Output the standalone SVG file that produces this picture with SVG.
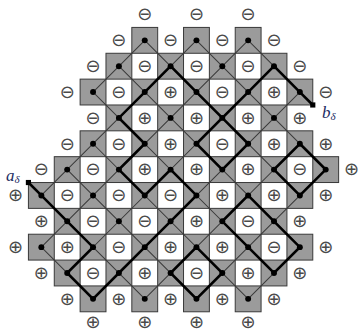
<svg xmlns="http://www.w3.org/2000/svg" width="360" height="332" viewBox="0 0 360 332">
<style>
.cell{fill:#9b9b9b;stroke:#3a3a3a;stroke-width:0.039}
.thin{fill:none;stroke:#3a3a3a;stroke-width:0.039}
.thick{fill:none;stroke:#000;stroke-width:0.1;stroke-linejoin:miter}
.dot{fill:#000}
.s{font-family:"DejaVu Sans",sans-serif;font-size:18px;fill:#4a4a4a;text-anchor:middle}
.lab{font-family:"Liberation Serif",serif;font-style:italic;fill:#1d2c62}
</style>
<rect width="360" height="332" fill="#fff"/>
<g id="lattice" transform="translate(15.5 14.5) scale(25.85)">
<g id="cells" class="cell">
<rect x="4.5" y="0.5" width="1" height="1"/><rect x="6.5" y="0.5" width="1" height="1"/><rect x="8.5" y="0.5" width="1" height="1"/>
<rect x="3.5" y="1.5" width="1" height="1"/><rect x="5.5" y="1.5" width="1" height="1"/><rect x="7.5" y="1.5" width="1" height="1"/><rect x="9.5" y="1.5" width="1" height="1"/>
<rect x="2.5" y="2.5" width="1" height="1"/><rect x="4.5" y="2.5" width="1" height="1"/><rect x="6.5" y="2.5" width="1" height="1"/><rect x="8.5" y="2.5" width="1" height="1"/><rect x="10.5" y="2.5" width="1" height="1"/>
<rect x="3.5" y="3.5" width="1" height="1"/><rect x="5.5" y="3.5" width="1" height="1"/><rect x="7.5" y="3.5" width="1" height="1"/><rect x="9.5" y="3.5" width="1" height="1"/>
<rect x="2.5" y="4.5" width="1" height="1"/><rect x="4.5" y="4.5" width="1" height="1"/><rect x="6.5" y="4.5" width="1" height="1"/><rect x="8.5" y="4.5" width="1" height="1"/><rect x="10.5" y="4.5" width="1" height="1"/>
<rect x="1.5" y="5.5" width="1" height="1"/><rect x="3.5" y="5.5" width="1" height="1"/><rect x="5.5" y="5.5" width="1" height="1"/><rect x="7.5" y="5.5" width="1" height="1"/><rect x="9.5" y="5.5" width="1" height="1"/><rect x="11.5" y="5.5" width="1" height="1"/>
<rect x="0.5" y="6.5" width="1" height="1"/><rect x="2.5" y="6.5" width="1" height="1"/><rect x="4.5" y="6.5" width="1" height="1"/><rect x="6.5" y="6.5" width="1" height="1"/><rect x="8.5" y="6.5" width="1" height="1"/><rect x="10.5" y="6.5" width="1" height="1"/>
<rect x="1.5" y="7.5" width="1" height="1"/><rect x="3.5" y="7.5" width="1" height="1"/><rect x="5.5" y="7.5" width="1" height="1"/><rect x="7.5" y="7.5" width="1" height="1"/><rect x="9.5" y="7.5" width="1" height="1"/>
<rect x="0.5" y="8.5" width="1" height="1"/><rect x="2.5" y="8.5" width="1" height="1"/><rect x="4.5" y="8.5" width="1" height="1"/><rect x="6.5" y="8.5" width="1" height="1"/><rect x="8.5" y="8.5" width="1" height="1"/><rect x="10.5" y="8.5" width="1" height="1"/>
<rect x="1.5" y="9.5" width="1" height="1"/><rect x="3.5" y="9.5" width="1" height="1"/><rect x="5.5" y="9.5" width="1" height="1"/><rect x="7.5" y="9.5" width="1" height="1"/><rect x="9.5" y="9.5" width="1" height="1"/>
<rect x="2.5" y="10.5" width="1" height="1"/><rect x="4.5" y="10.5" width="1" height="1"/><rect x="6.5" y="10.5" width="1" height="1"/><rect x="8.5" y="10.5" width="1" height="1"/>
</g>
<g id="connectors">
<path class="thin" d="M5 1L11 7M7 1L12 6M9 1L11 3M4 2L11 9M3 3L10 10M3 5L9 11M2 6L7 11M1 7L5 11M1 9L3 11M5 1L3 3M7 1L1 7M9 1L1 9M10 2L2 10M11 3L3 11M11 5L5 11M12 6L7 11M11 9L9 11"/>
<path class="thick" d="M0.5 6.5L1 7L2 8L3 9L2 10L3 11L4 10L5 9L6 8L7 7L6 6L5 7L4 6L5 5L4 4L5 3L6 2L7 3L8 4L9 3L10 2L11 3L11.5 3.5M8 4L9 5L8 6L7 5ZM11 5L12 6L11 7L10 6ZM9 7L10 8L11 9L10 10L9 9L8 8ZM7 9L8 10L7 11L6 10Z"/>
</g>
<g id="dots" class="dot">
<circle cx="5" cy="1" r="0.115"/><circle cx="7" cy="1" r="0.115"/><circle cx="9" cy="1" r="0.115"/>
<circle cx="4" cy="2" r="0.115"/><circle cx="6" cy="2" r="0.115"/><circle cx="8" cy="2" r="0.115"/><circle cx="10" cy="2" r="0.115"/>
<circle cx="3" cy="3" r="0.115"/><circle cx="5" cy="3" r="0.115"/><circle cx="7" cy="3" r="0.115"/><circle cx="9" cy="3" r="0.115"/><circle cx="11" cy="3" r="0.115"/>
<circle cx="4" cy="4" r="0.115"/><circle cx="6" cy="4" r="0.115"/><circle cx="8" cy="4" r="0.115"/><circle cx="10" cy="4" r="0.115"/>
<circle cx="3" cy="5" r="0.115"/><circle cx="5" cy="5" r="0.115"/><circle cx="7" cy="5" r="0.115"/><circle cx="9" cy="5" r="0.115"/><circle cx="11" cy="5" r="0.115"/>
<circle cx="2" cy="6" r="0.115"/><circle cx="4" cy="6" r="0.115"/><circle cx="6" cy="6" r="0.115"/><circle cx="8" cy="6" r="0.115"/><circle cx="10" cy="6" r="0.115"/><circle cx="12" cy="6" r="0.115"/>
<circle cx="1" cy="7" r="0.115"/><circle cx="3" cy="7" r="0.115"/><circle cx="5" cy="7" r="0.115"/><circle cx="7" cy="7" r="0.115"/><circle cx="9" cy="7" r="0.115"/><circle cx="11" cy="7" r="0.115"/>
<circle cx="2" cy="8" r="0.115"/><circle cx="4" cy="8" r="0.115"/><circle cx="6" cy="8" r="0.115"/><circle cx="8" cy="8" r="0.115"/><circle cx="10" cy="8" r="0.115"/>
<circle cx="1" cy="9" r="0.115"/><circle cx="3" cy="9" r="0.115"/><circle cx="5" cy="9" r="0.115"/><circle cx="7" cy="9" r="0.115"/><circle cx="9" cy="9" r="0.115"/><circle cx="11" cy="9" r="0.115"/>
<circle cx="2" cy="10" r="0.115"/><circle cx="4" cy="10" r="0.115"/><circle cx="6" cy="10" r="0.115"/><circle cx="8" cy="10" r="0.115"/><circle cx="10" cy="10" r="0.115"/>
<circle cx="3" cy="11" r="0.115"/><circle cx="5" cy="11" r="0.115"/><circle cx="7" cy="11" r="0.115"/><circle cx="9" cy="11" r="0.115"/>
</g>
<g id="endpoints" fill="#000">
<rect x="0.4" y="6.4" width="0.2" height="0.2"/>
<rect x="11.4" y="3.4" width="0.2" height="0.2"/>
</g>
</g>
<g id="signs" class="s" transform="translate(0 5.8)">
<text x="144.75" y="14.5">⊖</text><text x="196.45" y="14.5">⊖</text><text x="248.15" y="14.5">⊖</text>
<text x="118.9" y="40.35">⊖</text><text x="170.6" y="40.35">⊖</text><text x="222.3" y="40.35">⊖</text><text x="274" y="40.35">⊖</text>
<text x="93.05" y="66.2">⊖</text><text x="144.75" y="66.2">⊖</text><text x="196.45" y="66.2">⊖</text><text x="248.15" y="66.2">⊖</text><text x="299.85" y="66.2">⊖</text>
<text x="67.2" y="92.05">⊖</text><text x="118.9" y="92.05">⊖</text><text x="170.6" y="92.05">⊕</text><text x="222.3" y="92.05">⊖</text><text x="274" y="92.05">⊕</text><text x="325.7" y="92.05">⊖</text>
<text x="93.05" y="117.9">⊖</text><text x="144.75" y="117.9">⊕</text><text x="196.45" y="117.9">⊕</text><text x="248.15" y="117.9">⊕</text><text x="299.85" y="117.9">⊕</text>
<text x="67.2" y="143.75">⊖</text><text x="118.9" y="143.75">⊖</text><text x="170.6" y="143.75">⊕</text><text x="222.3" y="143.75">⊖</text><text x="274" y="143.75">⊕</text><text x="325.7" y="143.75">⊕</text>
<text x="41.35" y="169.6">⊖</text><text x="93.05" y="169.6">⊖</text><text x="144.75" y="169.6">⊕</text><text x="196.45" y="169.6">⊕</text><text x="248.15" y="169.6">⊕</text><text x="299.85" y="169.6">⊖</text><text x="351.55" y="169.6">⊕</text>
<text x="15.5" y="195.45">⊕</text><text x="67.2" y="195.45">⊖</text><text x="118.9" y="195.45">⊖</text><text x="170.6" y="195.45">⊖</text><text x="222.3" y="195.45">⊕</text><text x="274" y="195.45">⊕</text><text x="325.7" y="195.45">⊕</text>
<text x="41.35" y="221.3">⊕</text><text x="93.05" y="221.3">⊖</text><text x="144.75" y="221.3">⊖</text><text x="196.45" y="221.3">⊕</text><text x="248.15" y="221.3">⊖</text><text x="299.85" y="221.3">⊕</text>
<text x="15.5" y="247.15">⊕</text><text x="67.2" y="247.15">⊕</text><text x="118.9" y="247.15">⊖</text><text x="170.6" y="247.15">⊕</text><text x="222.3" y="247.15">⊕</text><text x="274" y="247.15">⊖</text><text x="325.7" y="247.15">⊕</text>
<text x="41.35" y="273">⊕</text><text x="93.05" y="273">⊖</text><text x="144.75" y="273">⊕</text><text x="196.45" y="273">⊖</text><text x="248.15" y="273">⊕</text><text x="299.85" y="273">⊕</text>
<text x="67.2" y="298.85">⊕</text><text x="118.9" y="298.85">⊕</text><text x="170.6" y="298.85">⊕</text><text x="222.3" y="298.85">⊕</text><text x="274" y="298.85">⊕</text>
<text x="93.05" y="322">⊕</text><text x="144.75" y="322">⊕</text><text x="196.45" y="322">⊕</text><text x="248.15" y="322">⊕</text>
</g>
<g id="labels" class="lab">
<text x="6" y="181" font-size="17">a<tspan font-size="11" dy="2">δ</tspan></text>
<text x="322" y="118" font-size="17">b<tspan font-size="11" dy="2">δ</tspan></text>
</g>
</svg>
